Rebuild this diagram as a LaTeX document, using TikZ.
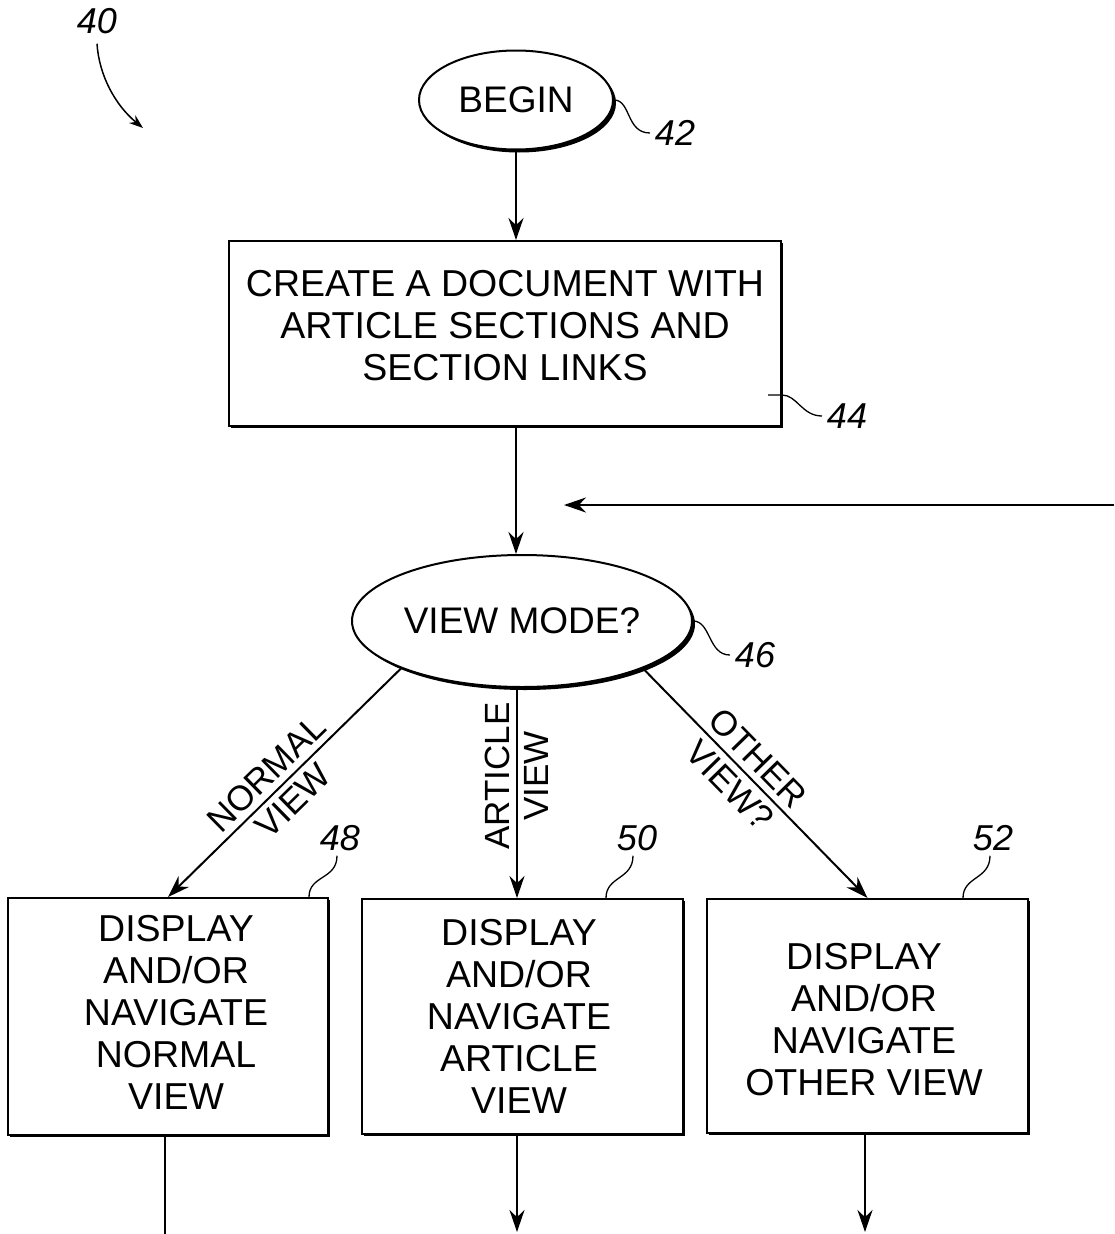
\documentclass[tikz,border=0pt]{standalone}
\usepackage{fontspec}
\setmainfont{Liberation Sans}
\usetikzlibrary{arrows.meta,shapes.geometric,shadows}

\begin{document}
\begin{tikzpicture}[x=1pt,y=-1pt,
  line width=2pt,
  every node/.style={inner sep=0pt},
  txt/.style={font=\fontsize{37.5}{42}\selectfont, align=center},
  lbl/.style={font=\fontsize{35}{40}\selectfont, inner sep=6pt},
  refnum/.style={font=\fontsize{36}{40}\selectfont\itshape, inner sep=4pt},
  procbox/.style={draw, fill=white,
    drop shadow={shadow xshift=2pt, shadow yshift=-2pt, fill=black, opacity=1}},
  term/.style={ellipse, draw, fill=white, font=\fontsize{37}{42}\selectfont,
    drop shadow={shadow xshift=3pt, shadow yshift=-3pt, fill=black, opacity=1}},
  arr/.style={-{Stealth[length=22pt,width=15pt]}},
  leader/.style={line width=1.3pt},
]
\useasboundingbox (0,0) rectangle (1114,1234);

% terminal and decision ellipses
\node[term, minimum width=194pt, minimum height=99pt] (begin) at (516,100) {BEGIN};
\node[term, minimum width=340pt, minimum height=132pt] (vm) at (522,621) {VIEW MODE?};

% process boxes
\node[procbox, minimum width=552pt, minimum height=185pt] (b44) at (505,333.5) {};
\node[txt] (t44) at (505,326) {CREATE A DOCUMENT WITH\\ARTICLE SECTIONS AND\\SECTION LINKS};

\node[procbox, minimum width=320pt, minimum height=237pt] (b48) at (168,1016.5) {};
\node[txt] (t48) at (176,1012) {DISPLAY\\AND/OR\\NAVIGATE\\NORMAL\\VIEW};

\node[procbox, minimum width=321pt, minimum height=235pt] (b50) at (522.5,1016.5) {};
\node[txt] (t50) at (519,1016) {DISPLAY\\AND/OR\\NAVIGATE\\ARTICLE\\VIEW};

\node[procbox, minimum width=321pt, minimum height=234pt] (b52) at (867.5,1016) {};
\node[txt] (t52) at (864,1020) {DISPLAY\\AND/OR\\NAVIGATE\\OTHER VIEW};

% main flow
\draw[arr] (begin.south) -- (begin.south |- b44.north);
\draw[arr] (b44.south -| begin.south) -- (vm.north -| begin.south);

% return path entering from the right
\coordinate (ret) at (1114,505);
\coordinate (retEnd) at (564,505);
\draw[arr] (ret) -- (retEnd);

% branches out of the decision
\draw[arr] (vm.south west) --
  node[lbl, sloped, above, pos=0.52] {NORMAL}
  node[lbl, sloped, below, pos=0.52] {VIEW} (b48.north);

\coordinate (mid) at (517,0);
\draw[arr] (vm.south -| mid) --
  node[lbl, rotate=90, anchor=south, pos=0.42] {ARTICLE}
  node[lbl, rotate=90, anchor=north, pos=0.42] {VIEW} (b50.north -| mid);

\draw[arr] (vm.south east) --
  node[lbl, sloped, above, pos=0.45] {OTHER}
  node[lbl, sloped, below, pos=0.45] {VIEW?} (b52.north);

% outgoing lines at the bottom
\coordinate (e48) at (165,1234);
\coordinate (e50) at (517,1232);
\coordinate (e52) at (865,1232);
\draw (b48.south -| e48) -- (e48);
\draw[arr] (b50.south -| e50) -- (e50);
\draw[arr] (b52.south -| e52) -- (e52);

% reference numerals and leaders
\node[refnum] (n40) at (97,21) {40};
\coordinate (a40) at (143,128);
\draw[line width=1.5pt, -{Stealth[length=14pt,width=10pt]}]
  ([yshift=-5pt]n40.south) .. controls (99,75) and (115,105) .. (a40);

\node[refnum] (n42) at (675,133) {42};
\draw[leader] (begin.east) .. controls +(17,0) and +(-24,0) .. (n42.west);

\node[refnum] (n44) at (847,416) {44};
\coordinate (l44) at (768,395);
\draw[leader] (l44) -- +(14,0) .. controls +(15,0) and +(-20,0) .. (n44.west);

\node[refnum] (n46) at (755,655) {46};
\draw[leader] (vm.east) .. controls +(18,0) and +(-22,0) .. (n46.west);

\node[refnum] (n48) at (340,838) {48};
\draw[leader] ([xshift=-20pt]b48.north east) .. controls +(0,-22) and +(0,24) .. ([xshift=-3pt]n48.south);

\node[refnum] (n50) at (637,838) {50};
\draw[leader] ([xshift=-78pt]b50.north east) .. controls +(0,-22) and +(0,24) .. ([xshift=-4pt]n50.south);

\node[refnum] (n52) at (993,838) {52};
\draw[leader] ([xshift=-66pt]b52.north east) .. controls +(0,-22) and +(0,24) .. ([xshift=-3pt]n52.south);
\end{tikzpicture}
\end{document}
